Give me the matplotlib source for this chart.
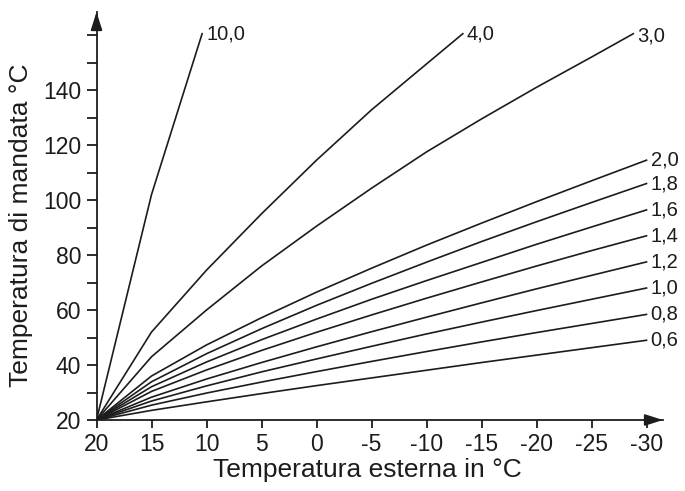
import matplotlib
matplotlib.use('Agg')
import matplotlib.pyplot as plt
from matplotlib.ticker import FixedLocator

plt.rcParams['font.family'] = ['Liberation Sans', 'DejaVu Sans']

# outside temperature (deg C) sampled along each curve
x_out = [20, 15, 10, 5, 0, -5, -10, -15, -20, -25, -30]

# flow temperature for the flat curves
c06 = [20, 23.5, 26.6, 29.6, 32.5, 35.3, 38.1, 40.9, 43.6, 46.3, 49]
c08 = [20, 25.4, 29.8, 33.8, 37.6, 41.3, 44.9, 48.4, 51.8, 55.1, 58.4]
c10 = [20, 26.9, 32.4, 37.5, 42.2, 46.8, 51.3, 55.6, 59.8, 63.9, 68]
c12 = [20, 28.3, 34.9, 40.9, 46.6, 52.1, 57.4, 62.6, 67.7, 72.6, 77.5]
c14 = [20, 30.4, 38.2, 45.3, 51.9, 58.2, 64.3, 70.2, 76, 81.6, 87]
c16 = [20, 32.1, 41.1, 49.2, 56.7, 63.9, 70.7, 77.3, 83.9, 90.2, 96.4]
c18 = [20, 33.9, 44.1, 53.2, 61.7, 69.7, 77.4, 84.9, 92.1, 99.1, 106]
c20 = [20, 36, 47.3, 57.2, 66.5, 75.2, 83.6, 91.6, 99.4, 107, 114.5]

# steep curves stop at 160 deg C
x30 = [20, 15, 10, 5, 0, -5, -10, -15, -20, -25, -28.8]
c30 = [20, 43, 60, 76, 90.5, 104.3, 117.5, 129.5, 141, 152, 160.5]
x40 = [20, 15, 10, 5, 0, -5, -10, -13.3]
c40 = [20, 52, 74.5, 95, 114.5, 132.8, 149.5, 160.5]
x100 = [20, 15, 10.4]
c100 = [20, 102, 160.5]

curves = [
    ('0,6', x_out, c06), ('0,8', x_out, c08), ('1,0', x_out, c10),
    ('1,2', x_out, c12), ('1,4', x_out, c14), ('1,6', x_out, c16),
    ('1,8', x_out, c18), ('2,0', x_out, c20), ('3,0', x30, c30),
    ('4,0', x40, c40), ('10,0', x100, c100),
]

x_ticks = [20, 15, 10, 5, 0, -5, -10, -15, -20, -25, -30]
y_labelled = [20, 40, 60, 80, 100, 120, 140]
y_minor = [30, 50, 70, 90, 110, 130, 150, 160]

ink = '#1c1c1c'

fig = plt.figure(figsize=(6.85, 4.91), dpi=100)
ax = fig.add_axes([0.1409, 0.1446, 0.827, 0.831])

for label, xs, ys in curves:
    ax.plot(xs, ys, color=ink, linewidth=1.2, solid_joinstyle='round')
    dy = -2 if label == '3,0' else 0
    ax.annotate(label, xy=(xs[-1], ys[-1]), xytext=(3, dy),
                textcoords='offset points', va='center', ha='left',
                fontsize=14.5, color=ink)

ax.set_xlim(20, -31.5)
ax.set_ylim(20, 168.4)

for side in ('top', 'right'):
    ax.spines[side].set_visible(False)
for side in ('left', 'bottom'):
    ax.spines[side].set_linewidth(1.3)
    ax.spines[side].set_color(ink)

# arrow heads on both axes
ax.annotate('', xy=(1.0, 0), xytext=(0.97, 0), xycoords='axes fraction',
            arrowprops=dict(arrowstyle='-|>,head_length=1.1,head_width=0.35',
                            color=ink, lw=1.3, shrinkA=0, shrinkB=0))
ax.annotate('', xy=(0, 1.0), xytext=(0, 0.96), xycoords='axes fraction',
            arrowprops=dict(arrowstyle='-|>,head_length=1.1,head_width=0.35',
                            color=ink, lw=1.3, shrinkA=0, shrinkB=0))

ax.xaxis.set_major_locator(FixedLocator(x_ticks))
ax.set_xticklabels([str(v) for v in x_ticks])
ax.yaxis.set_major_locator(FixedLocator(y_labelled))
ax.yaxis.set_minor_locator(FixedLocator(y_minor))
ax.tick_params(axis='both', which='both', direction='out', width=1.3,
               color=ink, labelcolor=ink, labelsize=16.5)
ax.tick_params(axis='y', which='both', length=7, pad=4)
ax.tick_params(axis='x', which='both', length=6, pad=3)

ax.set_xlabel('Temperatura esterna in °C', fontsize=19, color=ink)
ax.set_ylabel('Temperatura di mandata °C', fontsize=19, color=ink)
ax.xaxis.set_label_coords(0.479, -0.093)
ax.yaxis.set_label_coords(-0.112, 0.478)

fig.savefig('out.png', dpi=100)
plt.close(fig)
